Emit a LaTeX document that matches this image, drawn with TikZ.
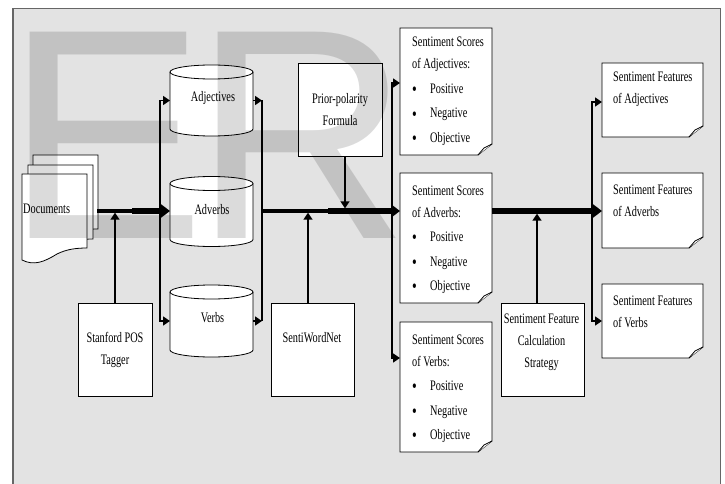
\documentclass[tikz,border=0pt]{standalone}
\usepackage{fontspec}
\setmainfont[FakeStretch=0.71]{Liberation Serif}
\newfontfamily\wmfont{Liberation Sans}
\usetikzlibrary{arrows.meta}
\definecolor{bgc}{HTML}{E3E3E3}
\definecolor{framec}{HTML}{666666}
\newcommand\fs{\fontsize{14.5}{22}\selectfont}
\newcommand\bul{\makebox[18pt][l]{\hspace{0pt}\raisebox{-2.2pt}{\fontsize{19}{22}\selectfont\textbullet}}}
\newcommand\drawcyl[1]{%
  \draw[shapeln] ([yshift=-7pt]#1.north west) -- ([yshift=7pt]#1.south west)
    arc[start angle=180,end angle=360,x radius=41.5pt,y radius=7pt]
    -- ([yshift=-7pt]#1.north east)
    arc[start angle=0,end angle=180,x radius=41.5pt,y radius=7pt] -- cycle;
  \draw[shapeln,fill=none] ([yshift=-7pt]#1.north west)
    arc[start angle=180,end angle=360,x radius=41.5pt,y radius=7pt];}
\newcommand\drawnote[1]{%
  \draw[shapeln] (#1.north west) -- (#1.north east) -- ([yshift=11pt]#1.south east)
    -- ([xshift=-14pt]#1.south east) -- (#1.south west) -- cycle;
  \draw[shapeln] ([yshift=11pt]#1.south east) -- ([xshift=-8pt,yshift=7pt]#1.south east)
    -- ([xshift=-14pt]#1.south east);}
\newcommand\drawpage[2]{%
  \draw[shapeln] (#1,#2) -- ({#1+65},#2) -- ({#1+65},{#2+74})
    .. controls ({#1+55},{#2+74}) and ({#1+45},{#2+75}) .. ({#1+35},{#2+80})
    .. controls ({#1+22},{#2+88}) and ({#1+12},{#2+92}) .. (#1,{#2+86}) -- cycle;}
\begin{document}
\begin{tikzpicture}[x=1pt,y=-1pt,
  shapeln/.style={draw=black, fill=white, line width=0.8pt},
  boxnode/.style={draw=black, fill=white, line width=0.8pt, inner sep=0pt, align=center, font=\fs},
  holder/.style={inner sep=0pt, outer sep=0pt},
  lbl/.style={inner sep=0pt, font=\fs, align=center},
  conn/.style={line width=1.6pt},
  tip/.style={-{Triangle[length=7pt,width=9pt]}},
  mainln/.style={line width=3.5pt},
  heavyln/.style={line width=5.5pt},
  mtip/.style={-{Triangle[length=9pt,width=13pt]}},
  wm/.style={inner sep=0pt, font=\wmfont\fontsize{300}{300}\selectfont, text=black, text opacity=0.14}]
\useasboundingbox (0,0) rectangle (725,484);
\fill[white] (0,0) rectangle (725,484);
\fill[bgc] (13,8.5) rectangle (720.5,490);
\draw[framec, line width=1.5pt] (13,490) -- (13,8.5) -- (720.5,8.5) -- (720.5,490);

% documents
\drawpage{33}{155}
\drawpage{28}{165}
\drawpage{22}{174}
\node[holder, minimum width=75pt, minimum height=108pt] (docs) at (59.5,211) {};
\node[lbl, anchor=base west] (docsT) at (23,213) {Documents};

% cylinders
\node[holder, minimum width=83pt, minimum height=71pt] (adj) at (211.5,100.5) {};
\node[holder, minimum width=83pt, minimum height=70pt] (adv) at (211.5,211.5) {};
\node[holder, minimum width=83pt, minimum height=72pt] (verbs) at (211.5,321) {};
\drawcyl{adj}\drawcyl{adv}\drawcyl{verbs}
\node[lbl] (adjT) at (213,98) {Adjectives};
\node[lbl] (advT) at (212,210) {Adverbs};
\node[lbl] (verbsT) at (212.5,318) {Verbs};

% rectangular boxes
\node[boxnode, minimum width=74pt, minimum height=93pt] (pos) at (115,349.5) {Stanford POS\\Tagger};
\node[boxnode, minimum width=83pt, minimum height=93pt] (swn) at (312.5,349.5) {};
\node[lbl] (swnT) at (312,338) {SentiWordNet};
\node[boxnode, minimum width=84pt, minimum height=93pt] (prior) at (340,109.5) {Prior-polarity\\Formula};
\node[boxnode, minimum width=83pt, minimum height=93pt] (strat) at (542.5,349.5) {};
\node[lbl] (stratT) at (541.5,342) {Sentiment Feature\\Calculation\\Strategy};

% note boxes: scores
\node[holder, minimum width=92pt, minimum height=127pt] (sadj) at (446,91.5) {};
\node[holder, minimum width=92pt, minimum height=130pt] (sadv) at (446,238) {};
\node[holder, minimum width=92pt, minimum height=130pt] (sverb) at (446,387) {};
% note boxes: features
\node[holder, minimum width=101pt, minimum height=74pt] (fadj) at (652.5,100) {};
\node[holder, minimum width=101pt, minimum height=75pt] (fadv) at (652.5,210.5) {};
\node[holder, minimum width=101pt, minimum height=74pt] (fverb) at (652.5,321) {};
\drawnote{sadj}\drawnote{sadv}\drawnote{sverb}
\drawnote{fadj}\drawnote{fadv}\drawnote{fverb}

\node[lbl, anchor=base west] (sadjT) at ([xshift=12pt,yshift=-19pt]sadj.north west)
  {\parbox[t]{85pt}{\fs\raggedright Sentiment Scores\\of Adjectives:\\[2.5pt]\bul Positive\\[2.5pt]\bul Negative\\[2.5pt]\bul Objective}};
\node[lbl, anchor=base west] (sadvT) at ([xshift=12pt,yshift=-22pt]sadv.north west)
  {\parbox[t]{85pt}{\fs\raggedright Sentiment Scores\\of Adverbs:\\[2.5pt]\bul Positive\\[2.5pt]\bul Negative\\[2.5pt]\bul Objective}};
\node[lbl, anchor=base west] (sverbT) at ([xshift=12pt,yshift=-22pt]sverb.north west)
  {\parbox[t]{85pt}{\fs\raggedright Sentiment Scores\\of Verbs:\\[2.5pt]\bul Positive\\[2.5pt]\bul Negative\\[2.5pt]\bul Objective}};
\node[lbl, anchor=base west] (fadjT) at ([xshift=11pt,yshift=-19pt]fadj.north west)
  {\parbox[t]{95pt}{\fs\raggedright Sentiment Features\\of Adjectives}};
\node[lbl, anchor=base west] (fadvT) at ([xshift=11pt,yshift=-21pt]fadv.north west)
  {\parbox[t]{95pt}{\fs\raggedright Sentiment Features\\of Adverbs}};
\node[lbl, anchor=base west] (fverbT) at ([xshift=11pt,yshift=-21pt]fverb.north west)
  {\parbox[t]{95pt}{\fs\raggedright Sentiment Features\\of Verbs}};

% junction coordinates
\coordinate (jl) at (160,211);
\coordinate (jr) at (262,211);
\coordinate (js) at (392,211);
\coordinate (jf) at (592,211);
\coordinate (h1a) at (132,211);
\coordinate (h1b) at (161,211);
\coordinate (h2a) at (328,211);
\coordinate (h2b) at (391,211);

% cylinder distribution
\draw[conn,tip] (jl) |- (adj.west);
\draw[conn,tip] (jl) |- (verbs.west);
\draw[conn,tip] (adj.east) -- (adj.east -| jr);
\draw[conn,tip] (verbs.east) -- (verbs.east -| jr);
\draw[conn] (adj.east -| jr) -- (verbs.east -| jr);

% score distribution
\draw[conn,tip] (js) |- ([yshift=8.5pt]sadj.west);
\draw[conn,tip] (js) |- ([yshift=29pt]sverb.west);
% feature distribution
\draw[conn,tip] (jf) |- ([yshift=-2pt]fadj.west);
\draw[conn,tip] (jf) |- (fverb.west);

% input arrows
\draw[conn,tip,shorten >=1.7pt] (pos.north) -- (pos.north |- jl);
\draw[conn,tip,shorten >=1.7pt] ([xshift=-4.5pt]swn.north) -- ([xshift=-4.5pt]swn.north |- jr);
\draw[conn,tip,shorten >=2.7pt] ([xshift=5pt]prior.south) -- ([xshift=5pt]prior.south |- jr);
\draw[conn,tip,shorten >=2.7pt] ([xshift=-5.5pt]strat.north) -- ([xshift=-5.5pt]strat.north |- jf);

% main line
\draw[mainln,mtip] (docs.east) -- (docs.east -| adv.west);
\draw[heavyln] (h1a) -- (h1b);
\draw[mainln,mtip] (jr) -- (jr -| sadv.west);
\draw[heavyln] (h2a) -- (h2b);
\draw[heavyln,mtip] (jr -| sadv.east) -- (jr -| fadv.west);

% watermark
\node[wm, anchor=base west] (wmE) at (5,238) {E};
\node[wm, anchor=base west] (wmR) at (193,238) {R};
\end{tikzpicture}
\end{document}
